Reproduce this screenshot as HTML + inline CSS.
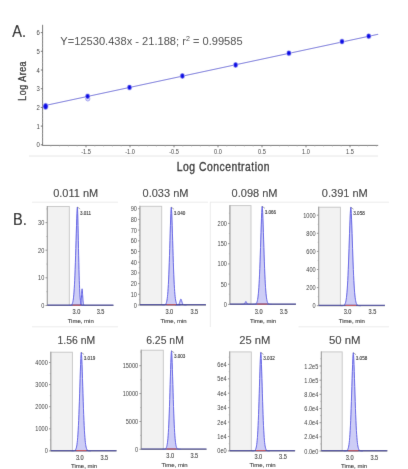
<!DOCTYPE html>
<html><head><meta charset="utf-8"><style>
html,body{margin:0;padding:0;background:#fff;width:408px;height:469px;overflow:hidden}
svg{display:block;font-family:"Liberation Sans", sans-serif}
</style></head><body>
<svg width="408" height="469" viewBox="0 0 408 469">
<defs><filter id="bl" x="0" y="0" width="100%" height="100%" filterUnits="userSpaceOnUse"><feConvolveMatrix order="3" kernelMatrix="0.00524 0.06192 0.00524 0.06192 0.73137 0.06192 0.00524 0.06192 0.00524" edgeMode="duplicate" preserveAlpha="true"/></filter></defs>
<rect width="408" height="469" fill="#fff"/>
<g filter="url(#bl)">
<rect width="408" height="469" fill="#fff"/>
<text transform="translate(12.30,36.80) scale(0.86,1)" font-size="17" text-anchor="start" fill="#111" font-weight="normal" stroke="#111" stroke-width="0.15">A.</text>
<line x1="42.6" y1="24.8" x2="42.6" y2="145.5" stroke="#6e6e6e" stroke-width="1"/>
<line x1="42.3" y1="145.4" x2="378.2" y2="145.4" stroke="#6e6e6e" stroke-width="1"/>
<line x1="40.8" y1="144.80" x2="42.9" y2="144.80" stroke="#6e6e6e" stroke-width="1"/>
<text transform="translate(39.80,147.30) scale(0.85,1)" font-size="7.0" text-anchor="end" fill="#333" font-weight="normal" >0</text>
<line x1="41.8" y1="141.06" x2="42.9" y2="141.06" stroke="#aaa" stroke-width="0.6"/>
<line x1="41.8" y1="137.32" x2="42.9" y2="137.32" stroke="#aaa" stroke-width="0.6"/>
<line x1="41.8" y1="133.58" x2="42.9" y2="133.58" stroke="#aaa" stroke-width="0.6"/>
<line x1="41.8" y1="129.84" x2="42.9" y2="129.84" stroke="#aaa" stroke-width="0.6"/>
<line x1="40.8" y1="126.10" x2="42.9" y2="126.10" stroke="#6e6e6e" stroke-width="1"/>
<text transform="translate(39.80,128.60) scale(0.85,1)" font-size="7.0" text-anchor="end" fill="#333" font-weight="normal" >1</text>
<line x1="41.8" y1="122.36" x2="42.9" y2="122.36" stroke="#aaa" stroke-width="0.6"/>
<line x1="41.8" y1="118.62" x2="42.9" y2="118.62" stroke="#aaa" stroke-width="0.6"/>
<line x1="41.8" y1="114.88" x2="42.9" y2="114.88" stroke="#aaa" stroke-width="0.6"/>
<line x1="41.8" y1="111.14" x2="42.9" y2="111.14" stroke="#aaa" stroke-width="0.6"/>
<line x1="40.8" y1="107.40" x2="42.9" y2="107.40" stroke="#6e6e6e" stroke-width="1"/>
<text transform="translate(39.80,109.90) scale(0.85,1)" font-size="7.0" text-anchor="end" fill="#333" font-weight="normal" >2</text>
<line x1="41.8" y1="103.66" x2="42.9" y2="103.66" stroke="#aaa" stroke-width="0.6"/>
<line x1="41.8" y1="99.92" x2="42.9" y2="99.92" stroke="#aaa" stroke-width="0.6"/>
<line x1="41.8" y1="96.18" x2="42.9" y2="96.18" stroke="#aaa" stroke-width="0.6"/>
<line x1="41.8" y1="92.44" x2="42.9" y2="92.44" stroke="#aaa" stroke-width="0.6"/>
<line x1="40.8" y1="88.70" x2="42.9" y2="88.70" stroke="#6e6e6e" stroke-width="1"/>
<text transform="translate(39.80,91.20) scale(0.85,1)" font-size="7.0" text-anchor="end" fill="#333" font-weight="normal" >3</text>
<line x1="41.8" y1="84.96" x2="42.9" y2="84.96" stroke="#aaa" stroke-width="0.6"/>
<line x1="41.8" y1="81.22" x2="42.9" y2="81.22" stroke="#aaa" stroke-width="0.6"/>
<line x1="41.8" y1="77.48" x2="42.9" y2="77.48" stroke="#aaa" stroke-width="0.6"/>
<line x1="41.8" y1="73.74" x2="42.9" y2="73.74" stroke="#aaa" stroke-width="0.6"/>
<line x1="40.8" y1="70.00" x2="42.9" y2="70.00" stroke="#6e6e6e" stroke-width="1"/>
<text transform="translate(39.80,72.50) scale(0.85,1)" font-size="7.0" text-anchor="end" fill="#333" font-weight="normal" >4</text>
<line x1="41.8" y1="66.26" x2="42.9" y2="66.26" stroke="#aaa" stroke-width="0.6"/>
<line x1="41.8" y1="62.52" x2="42.9" y2="62.52" stroke="#aaa" stroke-width="0.6"/>
<line x1="41.8" y1="58.78" x2="42.9" y2="58.78" stroke="#aaa" stroke-width="0.6"/>
<line x1="41.8" y1="55.04" x2="42.9" y2="55.04" stroke="#aaa" stroke-width="0.6"/>
<line x1="40.8" y1="51.30" x2="42.9" y2="51.30" stroke="#6e6e6e" stroke-width="1"/>
<text transform="translate(39.80,53.80) scale(0.85,1)" font-size="7.0" text-anchor="end" fill="#333" font-weight="normal" >5</text>
<line x1="41.8" y1="47.56" x2="42.9" y2="47.56" stroke="#aaa" stroke-width="0.6"/>
<line x1="41.8" y1="43.82" x2="42.9" y2="43.82" stroke="#aaa" stroke-width="0.6"/>
<line x1="41.8" y1="40.08" x2="42.9" y2="40.08" stroke="#aaa" stroke-width="0.6"/>
<line x1="41.8" y1="36.34" x2="42.9" y2="36.34" stroke="#aaa" stroke-width="0.6"/>
<line x1="40.8" y1="32.60" x2="42.9" y2="32.60" stroke="#6e6e6e" stroke-width="1"/>
<text transform="translate(39.80,35.10) scale(0.85,1)" font-size="7.0" text-anchor="end" fill="#333" font-weight="normal" >6</text>
<line x1="86.00" y1="145.2" x2="86.00" y2="147.3" stroke="#6e6e6e" stroke-width="0.9"/>
<text transform="translate(86.00,153.60) scale(0.85,1)" font-size="6.6" text-anchor="middle" fill="#333" font-weight="normal" >-1.5</text>
<line x1="130.00" y1="145.2" x2="130.00" y2="147.3" stroke="#6e6e6e" stroke-width="0.9"/>
<text transform="translate(130.00,153.60) scale(0.85,1)" font-size="6.6" text-anchor="middle" fill="#333" font-weight="normal" >-1.0</text>
<line x1="174.00" y1="145.2" x2="174.00" y2="147.3" stroke="#6e6e6e" stroke-width="0.9"/>
<text transform="translate(174.00,153.60) scale(0.85,1)" font-size="6.6" text-anchor="middle" fill="#333" font-weight="normal" >-0.5</text>
<line x1="218.00" y1="145.2" x2="218.00" y2="147.3" stroke="#6e6e6e" stroke-width="0.9"/>
<text transform="translate(218.00,153.60) scale(0.85,1)" font-size="6.6" text-anchor="middle" fill="#333" font-weight="normal" >0.0</text>
<line x1="262.00" y1="145.2" x2="262.00" y2="147.3" stroke="#6e6e6e" stroke-width="0.9"/>
<text transform="translate(262.00,153.60) scale(0.85,1)" font-size="6.6" text-anchor="middle" fill="#333" font-weight="normal" >0.5</text>
<line x1="306.00" y1="145.2" x2="306.00" y2="147.3" stroke="#6e6e6e" stroke-width="0.9"/>
<text transform="translate(306.00,153.60) scale(0.85,1)" font-size="6.6" text-anchor="middle" fill="#333" font-weight="normal" >1.0</text>
<line x1="350.00" y1="145.2" x2="350.00" y2="147.3" stroke="#6e6e6e" stroke-width="0.9"/>
<text transform="translate(350.00,153.60) scale(0.85,1)" font-size="6.6" text-anchor="middle" fill="#333" font-weight="normal" >1.5</text>
<line x1="50.80" y1="145.2" x2="50.80" y2="146.5" stroke="#999" stroke-width="0.6"/>
<line x1="59.60" y1="145.2" x2="59.60" y2="146.5" stroke="#999" stroke-width="0.6"/>
<line x1="68.40" y1="145.2" x2="68.40" y2="146.5" stroke="#999" stroke-width="0.6"/>
<line x1="77.20" y1="145.2" x2="77.20" y2="146.5" stroke="#999" stroke-width="0.6"/>
<line x1="94.80" y1="145.2" x2="94.80" y2="146.5" stroke="#999" stroke-width="0.6"/>
<line x1="103.60" y1="145.2" x2="103.60" y2="146.5" stroke="#999" stroke-width="0.6"/>
<line x1="112.40" y1="145.2" x2="112.40" y2="146.5" stroke="#999" stroke-width="0.6"/>
<line x1="121.20" y1="145.2" x2="121.20" y2="146.5" stroke="#999" stroke-width="0.6"/>
<line x1="138.80" y1="145.2" x2="138.80" y2="146.5" stroke="#999" stroke-width="0.6"/>
<line x1="147.60" y1="145.2" x2="147.60" y2="146.5" stroke="#999" stroke-width="0.6"/>
<line x1="156.40" y1="145.2" x2="156.40" y2="146.5" stroke="#999" stroke-width="0.6"/>
<line x1="165.20" y1="145.2" x2="165.20" y2="146.5" stroke="#999" stroke-width="0.6"/>
<line x1="182.80" y1="145.2" x2="182.80" y2="146.5" stroke="#999" stroke-width="0.6"/>
<line x1="191.60" y1="145.2" x2="191.60" y2="146.5" stroke="#999" stroke-width="0.6"/>
<line x1="200.40" y1="145.2" x2="200.40" y2="146.5" stroke="#999" stroke-width="0.6"/>
<line x1="209.20" y1="145.2" x2="209.20" y2="146.5" stroke="#999" stroke-width="0.6"/>
<line x1="226.80" y1="145.2" x2="226.80" y2="146.5" stroke="#999" stroke-width="0.6"/>
<line x1="235.60" y1="145.2" x2="235.60" y2="146.5" stroke="#999" stroke-width="0.6"/>
<line x1="244.40" y1="145.2" x2="244.40" y2="146.5" stroke="#999" stroke-width="0.6"/>
<line x1="253.20" y1="145.2" x2="253.20" y2="146.5" stroke="#999" stroke-width="0.6"/>
<line x1="270.80" y1="145.2" x2="270.80" y2="146.5" stroke="#999" stroke-width="0.6"/>
<line x1="279.60" y1="145.2" x2="279.60" y2="146.5" stroke="#999" stroke-width="0.6"/>
<line x1="288.40" y1="145.2" x2="288.40" y2="146.5" stroke="#999" stroke-width="0.6"/>
<line x1="297.20" y1="145.2" x2="297.20" y2="146.5" stroke="#999" stroke-width="0.6"/>
<line x1="314.80" y1="145.2" x2="314.80" y2="146.5" stroke="#999" stroke-width="0.6"/>
<line x1="323.60" y1="145.2" x2="323.60" y2="146.5" stroke="#999" stroke-width="0.6"/>
<line x1="332.40" y1="145.2" x2="332.40" y2="146.5" stroke="#999" stroke-width="0.6"/>
<line x1="341.20" y1="145.2" x2="341.20" y2="146.5" stroke="#999" stroke-width="0.6"/>
<line x1="358.80" y1="145.2" x2="358.80" y2="146.5" stroke="#999" stroke-width="0.6"/>
<line x1="367.60" y1="145.2" x2="367.60" y2="146.5" stroke="#999" stroke-width="0.6"/>
<line x1="376.40" y1="145.2" x2="376.40" y2="146.5" stroke="#999" stroke-width="0.6"/>
<line x1="29" y1="156" x2="378" y2="156" stroke="#e6e6e6" stroke-width="1"/>
<text transform="translate(176.70,171.00) scale(0.85,1)" font-size="12.2" text-anchor="start" fill="#1e1e1e" font-weight="normal" stroke="#1e1e1e" stroke-width="0.3" letter-spacing="0.6">Log Concentration</text>
<text transform="translate(26.4,100.7) rotate(-90) scale(0.88,1)" font-size="10.1" letter-spacing="0.6" fill="#222" stroke="#222" stroke-width="0.3">Log Area</text>
<text transform="translate(60.30,44.70) scale(1.01,1)" font-size="11" text-anchor="start" fill="#3a3a3a" font-weight="normal" >Y=12530.438x - 21.188; r<tspan font-size="7" dy="-4">2</tspan><tspan dy="4"> = 0.99585</tspan></text>
<line x1="44" y1="105.8" x2="378.2" y2="34.2" stroke="#7c7cdc" stroke-width="1.05"/>
<ellipse cx="45.6" cy="106.3" rx="2.9" ry="3.6" fill="#b4b4f4"/>
<ellipse cx="45.6" cy="106.3" rx="2.1" ry="2.9" fill="#0c0ce6"/>
<circle cx="87.8" cy="98.9" r="2.1" fill="#dcdcfa" stroke="#9a9aee" stroke-width="0.9"/>
<ellipse cx="87.6" cy="96.3" rx="2.7" ry="3.0" fill="#c0c0f6"/>
<ellipse cx="87.6" cy="96.3" rx="2.0" ry="2.4" fill="#0c0ce6"/>
<ellipse cx="129.5" cy="87.4" rx="2.7" ry="3.0" fill="#c0c0f6"/>
<ellipse cx="129.5" cy="87.4" rx="2.0" ry="2.4" fill="#0c0ce6"/>
<ellipse cx="182.4" cy="76.0" rx="2.7" ry="3.0" fill="#c0c0f6"/>
<ellipse cx="182.4" cy="76.0" rx="2.0" ry="2.4" fill="#0c0ce6"/>
<ellipse cx="235.6" cy="65.0" rx="2.7" ry="3.0" fill="#c0c0f6"/>
<ellipse cx="235.6" cy="65.0" rx="2.0" ry="2.4" fill="#0c0ce6"/>
<ellipse cx="288.9" cy="53.2" rx="2.7" ry="3.0" fill="#c0c0f6"/>
<ellipse cx="288.9" cy="53.2" rx="2.0" ry="2.4" fill="#0c0ce6"/>
<ellipse cx="342" cy="41.6" rx="2.7" ry="3.0" fill="#c0c0f6"/>
<ellipse cx="342" cy="41.6" rx="2.0" ry="2.4" fill="#0c0ce6"/>
<ellipse cx="368.7" cy="36.2" rx="2.7" ry="3.0" fill="#c0c0f6"/>
<ellipse cx="368.7" cy="36.2" rx="2.0" ry="2.4" fill="#0c0ce6"/>
<text transform="translate(13.00,225.00) scale(0.86,1)" font-size="17" text-anchor="start" fill="#111" font-weight="normal" stroke="#111" stroke-width="0.15">B.</text>
<text transform="translate(75.70,196.70) scale(1.0,1)" font-size="11" text-anchor="middle" fill="#242424" font-weight="normal" stroke="#242424" stroke-width="0.06">0.011 nM</text>
<rect x="47.3" y="206.5" width="22.0" height="99.0" fill="#f2f2f2" stroke="#c4c4c4" stroke-width="0.9"/>
<line x1="45.5" y1="222.60" x2="47.3" y2="222.60" stroke="#777" stroke-width="0.8"/>
<text transform="translate(44.30,225.10) scale(0.8,1)" font-size="7.0" text-anchor="end" fill="#333" font-weight="normal" >30</text>
<line x1="45.5" y1="250.20" x2="47.3" y2="250.20" stroke="#777" stroke-width="0.8"/>
<text transform="translate(44.30,252.70) scale(0.8,1)" font-size="7.0" text-anchor="end" fill="#333" font-weight="normal" >20</text>
<line x1="45.5" y1="277.80" x2="47.3" y2="277.80" stroke="#777" stroke-width="0.8"/>
<text transform="translate(44.30,280.30) scale(0.8,1)" font-size="7.0" text-anchor="end" fill="#333" font-weight="normal" >10</text>
<line x1="45.5" y1="305.50" x2="47.3" y2="305.50" stroke="#777" stroke-width="0.8"/>
<text transform="translate(44.30,308.00) scale(0.8,1)" font-size="7.0" text-anchor="end" fill="#333" font-weight="normal" >0</text>
<line x1="47.3" y1="305.5" x2="113.4" y2="305.5" stroke="#777" stroke-width="1"/>
<line x1="47.3" y1="206.0" x2="47.3" y2="305.5" stroke="#9a9a9a" stroke-width="1"/>
<line x1="46.3" y1="291.70" x2="47.3" y2="291.70" stroke="#999" stroke-width="0.6"/>
<line x1="46.3" y1="264.10" x2="47.3" y2="264.10" stroke="#999" stroke-width="0.6"/>
<line x1="46.3" y1="236.50" x2="47.3" y2="236.50" stroke="#999" stroke-width="0.6"/>
<line x1="46.3" y1="208.90" x2="47.3" y2="208.90" stroke="#999" stroke-width="0.6"/>
<text transform="translate(76.40,314.20) scale(0.88,1)" font-size="6.4" text-anchor="middle" fill="#2a2a2a" font-weight="normal" stroke="#2a2a2a" stroke-width="0.1">3.0</text>
<text transform="translate(100.60,314.20) scale(0.88,1)" font-size="6.4" text-anchor="middle" fill="#2a2a2a" font-weight="normal" stroke="#2a2a2a" stroke-width="0.1">3.5</text>
<text transform="translate(80.70,322.80) scale(1.0,1)" font-size="6.0" text-anchor="middle" fill="#2a2a2a" font-weight="normal" stroke="#2a2a2a" stroke-width="0.1">Time, min</text>
<path d="M68.35,305.50 L68.58,305.50 L68.80,305.49 L69.03,305.49 L69.26,305.49 L69.48,305.48 L69.71,305.47 L69.93,305.45 L70.16,305.43 L70.39,305.40 L70.61,305.35 L70.84,305.28 L71.07,305.19 L71.29,305.06 L71.52,304.88 L71.74,304.65 L71.97,304.33 L72.20,303.90 L72.42,303.34 L72.65,302.61 L72.88,301.68 L73.10,300.49 L73.33,298.99 L73.55,297.12 L73.78,294.84 L74.01,292.07 L74.23,288.75 L74.46,284.84 L74.69,280.30 L74.91,275.11 L75.14,269.26 L75.36,262.81 L75.59,255.81 L75.82,248.40 L76.04,240.76 L76.27,233.10 L76.50,225.71 L76.72,218.93 L76.95,213.18 L77.17,208.95 L77.40,207.00 L77.56,208.95 L77.72,213.18 L77.88,218.93 L78.03,225.71 L78.19,233.10 L78.35,240.76 L78.51,248.40 L78.67,255.81 L78.83,262.81 L78.98,269.26 L79.14,275.11 L79.30,280.30 L79.46,284.84 L79.62,288.75 L79.78,292.07 L79.93,294.84 L80.09,297.12 L80.25,298.99 L80.41,300.49 L80.57,301.68 L80.73,302.61 L80.88,303.34 L81.04,303.90 L81.20,304.33 L81.36,304.65 L81.52,304.88 L81.68,305.06 L81.83,305.19 L81.99,305.28 L82.15,305.35 L82.31,305.40 L82.47,305.43 L82.63,305.45 L82.78,305.47 L82.94,305.48 L83.10,305.49 L83.26,305.49 L83.42,305.49 L83.58,305.50 L83.73,305.50 Z" fill="#cdcdf6" stroke="none"/>
<path d="M78.71,305.50 L78.79,305.50 L78.88,305.50 L78.96,305.50 L79.05,305.50 L79.13,305.50 L79.22,305.49 L79.30,305.49 L79.39,305.49 L79.47,305.48 L79.55,305.47 L79.64,305.46 L79.72,305.45 L79.81,305.43 L79.89,305.40 L79.98,305.36 L80.06,305.30 L80.15,305.23 L80.23,305.13 L80.32,305.01 L80.40,304.85 L80.49,304.65 L80.57,304.40 L80.66,304.08 L80.74,303.69 L80.83,303.22 L80.91,302.66 L81.00,302.00 L81.08,301.23 L81.17,300.35 L81.25,299.36 L81.34,298.26 L81.42,297.08 L81.51,295.82 L81.59,294.52 L81.68,293.22 L81.76,291.97 L81.85,290.82 L81.93,289.85 L82.02,289.13 L82.10,288.80 L82.18,289.13 L82.27,289.85 L82.35,290.82 L82.44,291.97 L82.52,293.22 L82.61,294.52 L82.69,295.82 L82.78,297.08 L82.86,298.26 L82.95,299.36 L83.03,300.35 L83.12,301.23 L83.20,302.00 L83.29,302.66 L83.37,303.22 L83.46,303.69 L83.54,304.08 L83.63,304.40 L83.71,304.65 L83.80,304.85 L83.88,305.01 L83.97,305.13 L84.05,305.23 L84.14,305.30 L84.22,305.36 L84.31,305.40 L84.39,305.43 L84.48,305.45 L84.56,305.46 L84.65,305.47 L84.73,305.48 L84.81,305.49 L84.90,305.49 L84.98,305.49 L85.07,305.50 L85.15,305.50 L85.24,305.50 L85.32,305.50 L85.41,305.50 L85.49,305.50 Z" fill="#cdcdf6" stroke="none"/>
<path d="M78.71,305.50 L78.79,305.50 L78.88,305.50 L78.96,305.50 L79.05,305.50 L79.13,305.50 L79.22,305.49 L79.30,305.49 L79.39,305.49 L79.47,305.48 L79.55,305.47 L79.64,305.46 L79.72,305.45 L79.81,305.43 L79.89,305.40 L79.98,305.36 L80.06,305.30 L80.15,305.23 L80.23,305.13 L80.32,305.01 L80.40,304.85 L80.49,304.65 L80.57,304.40 L80.66,304.08 L80.74,303.69 L80.83,303.22 L80.91,302.66 L81.00,302.00 L81.08,301.23 L81.17,300.35 L81.25,299.36 L81.34,298.26 L81.42,297.08 L81.51,295.82 L81.59,294.52 L81.68,293.22 L81.76,291.97 L81.85,290.82 L81.93,289.85 L82.02,289.13 L82.10,288.80 L82.18,289.13 L82.27,289.85 L82.35,290.82 L82.44,291.97 L82.52,293.22 L82.61,294.52 L82.69,295.82 L82.78,297.08 L82.86,298.26 L82.95,299.36 L83.03,300.35 L83.12,301.23 L83.20,302.00 L83.29,302.66 L83.37,303.22 L83.46,303.69 L83.54,304.08 L83.63,304.40 L83.71,304.65 L83.80,304.85 L83.88,305.01 L83.97,305.13 L84.05,305.23 L84.14,305.30 L84.22,305.36 L84.31,305.40 L84.39,305.43 L84.48,305.45 L84.56,305.46 L84.65,305.47 L84.73,305.48 L84.81,305.49 L84.90,305.49 L84.98,305.49 L85.07,305.50 L85.15,305.50 L85.24,305.50 L85.32,305.50 L85.41,305.50 L85.49,305.50" fill="none" stroke="#5a5ae4" stroke-width="1"/>
<path d="M68.35,305.50 L68.58,305.50 L68.80,305.49 L69.03,305.49 L69.26,305.49 L69.48,305.48 L69.71,305.47 L69.93,305.45 L70.16,305.43 L70.39,305.40 L70.61,305.35 L70.84,305.28 L71.07,305.19 L71.29,305.06 L71.52,304.88 L71.74,304.65 L71.97,304.33 L72.20,303.90 L72.42,303.34 L72.65,302.61 L72.88,301.68 L73.10,300.49 L73.33,298.99 L73.55,297.12 L73.78,294.84 L74.01,292.07 L74.23,288.75 L74.46,284.84 L74.69,280.30 L74.91,275.11 L75.14,269.26 L75.36,262.81 L75.59,255.81 L75.82,248.40 L76.04,240.76 L76.27,233.10 L76.50,225.71 L76.72,218.93 L76.95,213.18 L77.17,208.95 L77.40,207.00 L77.56,208.95 L77.72,213.18 L77.88,218.93 L78.03,225.71 L78.19,233.10 L78.35,240.76 L78.51,248.40 L78.67,255.81 L78.83,262.81 L78.98,269.26 L79.14,275.11 L79.30,280.30 L79.46,284.84 L79.62,288.75 L79.78,292.07 L79.93,294.84 L80.09,297.12 L80.25,298.99 L80.41,300.49 L80.57,301.68 L80.73,302.61 L80.88,303.34 L81.04,303.90 L81.20,304.33 L81.36,304.65 L81.52,304.88 L81.68,305.06 L81.83,305.19 L81.99,305.28 L82.15,305.35 L82.31,305.40 L82.47,305.43 L82.63,305.45 L82.78,305.47 L82.94,305.48 L83.10,305.49 L83.26,305.49 L83.42,305.49 L83.58,305.50 L83.73,305.50" fill="none" stroke="#5a5ae4" stroke-width="1"/>
<line x1="47.3" y1="305.2" x2="113.4" y2="305.2" stroke="#42429c" stroke-width="1.2"/>
<line x1="72.60" y1="305.2" x2="80.76" y2="305.2" stroke="#d04848" stroke-width="1"/>
<line x1="77.40" y1="207" x2="80.20" y2="209.1" stroke="#555" stroke-width="0.5"/>
<text transform="translate(79.90,214.60) scale(0.95,1)" font-size="4.8" text-anchor="start" fill="#222" font-weight="normal" stroke="#222" stroke-width="0.1">3.011</text>
<line x1="32" y1="202.2" x2="118" y2="202.2" stroke="#ebebeb" stroke-width="1"/>
<line x1="32" y1="326.8" x2="118" y2="326.8" stroke="#ebebeb" stroke-width="1"/>
<text transform="translate(165.50,196.70) scale(1.0,1)" font-size="11" text-anchor="middle" fill="#242424" font-weight="normal" stroke="#242424" stroke-width="0.06">0.033 nM</text>
<rect x="139.9" y="206.3" width="21.799999999999983" height="98.69999999999999" fill="#f2f2f2" stroke="#c4c4c4" stroke-width="0.9"/>
<line x1="138.1" y1="305.00" x2="139.9" y2="305.00" stroke="#777" stroke-width="0.8"/>
<text transform="translate(136.90,307.50) scale(0.8,1)" font-size="7.0" text-anchor="end" fill="#333" font-weight="normal" >0</text>
<line x1="138.1" y1="294.30" x2="139.9" y2="294.30" stroke="#777" stroke-width="0.8"/>
<text transform="translate(136.90,296.80) scale(0.8,1)" font-size="7.0" text-anchor="end" fill="#333" font-weight="normal" >10</text>
<line x1="138.1" y1="283.60" x2="139.9" y2="283.60" stroke="#777" stroke-width="0.8"/>
<text transform="translate(136.90,286.10) scale(0.8,1)" font-size="7.0" text-anchor="end" fill="#333" font-weight="normal" >20</text>
<line x1="138.1" y1="272.90" x2="139.9" y2="272.90" stroke="#777" stroke-width="0.8"/>
<text transform="translate(136.90,275.40) scale(0.8,1)" font-size="7.0" text-anchor="end" fill="#333" font-weight="normal" >30</text>
<line x1="138.1" y1="262.20" x2="139.9" y2="262.20" stroke="#777" stroke-width="0.8"/>
<text transform="translate(136.90,264.70) scale(0.8,1)" font-size="7.0" text-anchor="end" fill="#333" font-weight="normal" >40</text>
<line x1="138.1" y1="251.50" x2="139.9" y2="251.50" stroke="#777" stroke-width="0.8"/>
<text transform="translate(136.90,254.00) scale(0.8,1)" font-size="7.0" text-anchor="end" fill="#333" font-weight="normal" >50</text>
<line x1="138.1" y1="240.80" x2="139.9" y2="240.80" stroke="#777" stroke-width="0.8"/>
<text transform="translate(136.90,243.30) scale(0.8,1)" font-size="7.0" text-anchor="end" fill="#333" font-weight="normal" >60</text>
<line x1="138.1" y1="230.10" x2="139.9" y2="230.10" stroke="#777" stroke-width="0.8"/>
<text transform="translate(136.90,232.60) scale(0.8,1)" font-size="7.0" text-anchor="end" fill="#333" font-weight="normal" >70</text>
<line x1="138.1" y1="219.40" x2="139.9" y2="219.40" stroke="#777" stroke-width="0.8"/>
<text transform="translate(136.90,221.90) scale(0.8,1)" font-size="7.0" text-anchor="end" fill="#333" font-weight="normal" >80</text>
<line x1="138.1" y1="208.70" x2="139.9" y2="208.70" stroke="#777" stroke-width="0.8"/>
<text transform="translate(136.90,211.20) scale(0.8,1)" font-size="7.0" text-anchor="end" fill="#333" font-weight="normal" >90</text>
<line x1="139.9" y1="305" x2="206" y2="305" stroke="#777" stroke-width="1"/>
<line x1="139.9" y1="205.8" x2="139.9" y2="305" stroke="#9a9a9a" stroke-width="1"/>
<line x1="138.9" y1="299.65" x2="139.9" y2="299.65" stroke="#999" stroke-width="0.6"/>
<line x1="138.9" y1="288.95" x2="139.9" y2="288.95" stroke="#999" stroke-width="0.6"/>
<line x1="138.9" y1="278.25" x2="139.9" y2="278.25" stroke="#999" stroke-width="0.6"/>
<line x1="138.9" y1="267.55" x2="139.9" y2="267.55" stroke="#999" stroke-width="0.6"/>
<line x1="138.9" y1="256.85" x2="139.9" y2="256.85" stroke="#999" stroke-width="0.6"/>
<line x1="138.9" y1="246.15" x2="139.9" y2="246.15" stroke="#999" stroke-width="0.6"/>
<line x1="138.9" y1="235.45" x2="139.9" y2="235.45" stroke="#999" stroke-width="0.6"/>
<line x1="138.9" y1="224.75" x2="139.9" y2="224.75" stroke="#999" stroke-width="0.6"/>
<line x1="138.9" y1="214.05" x2="139.9" y2="214.05" stroke="#999" stroke-width="0.6"/>
<text transform="translate(169.30,314.00) scale(0.88,1)" font-size="6.4" text-anchor="middle" fill="#2a2a2a" font-weight="normal" stroke="#2a2a2a" stroke-width="0.1">3.0</text>
<text transform="translate(194.30,314.00) scale(0.88,1)" font-size="6.4" text-anchor="middle" fill="#2a2a2a" font-weight="normal" stroke="#2a2a2a" stroke-width="0.1">3.5</text>
<text transform="translate(173.60,322.80) scale(1.0,1)" font-size="6.0" text-anchor="middle" fill="#2a2a2a" font-weight="normal" stroke="#2a2a2a" stroke-width="0.1">Time, min</text>
<path d="M162.25,305.00 L162.48,305.00 L162.70,304.99 L162.93,304.99 L163.16,304.99 L163.38,304.98 L163.61,304.97 L163.83,304.95 L164.06,304.93 L164.29,304.90 L164.51,304.85 L164.74,304.78 L164.97,304.69 L165.19,304.56 L165.42,304.39 L165.64,304.15 L165.87,303.83 L166.10,303.41 L166.32,302.86 L166.55,302.13 L166.78,301.20 L167.00,300.02 L167.23,298.53 L167.45,296.68 L167.68,294.41 L167.91,291.66 L168.13,288.37 L168.36,284.49 L168.59,279.98 L168.81,274.82 L169.04,269.02 L169.26,262.61 L169.49,255.67 L169.72,248.31 L169.94,240.72 L170.17,233.11 L170.40,225.77 L170.62,219.05 L170.85,213.34 L171.07,209.13 L171.30,207.20 L171.53,209.13 L171.75,213.34 L171.98,219.05 L172.20,225.77 L172.43,233.11 L172.66,240.72 L172.88,248.31 L173.11,255.67 L173.34,262.61 L173.56,269.02 L173.79,274.82 L174.01,279.98 L174.24,284.49 L174.47,288.37 L174.69,291.66 L174.92,294.41 L175.15,296.68 L175.37,298.53 L175.60,300.02 L175.82,301.20 L176.05,302.13 L176.28,302.86 L176.50,303.41 L176.73,303.83 L176.96,304.15 L177.18,304.39 L177.41,304.56 L177.63,304.69 L177.86,304.78 L178.09,304.85 L178.31,304.90 L178.54,304.93 L178.77,304.95 L178.99,304.97 L179.22,304.98 L179.44,304.99 L179.67,304.99 L179.90,304.99 L180.12,305.00 L180.35,305.00 Z" fill="#cdcdf6" stroke="none"/>
<path d="M175.24,305.00 L175.39,305.00 L175.53,305.00 L175.67,305.00 L175.81,305.00 L175.95,305.00 L176.09,305.00 L176.23,305.00 L176.38,305.00 L176.52,304.99 L176.66,304.99 L176.80,304.99 L176.94,304.98 L177.08,304.97 L177.22,304.96 L177.37,304.95 L177.51,304.93 L177.65,304.90 L177.79,304.87 L177.93,304.82 L178.07,304.77 L178.21,304.69 L178.35,304.60 L178.50,304.49 L178.64,304.35 L178.78,304.18 L178.92,303.98 L179.06,303.74 L179.20,303.47 L179.34,303.15 L179.49,302.79 L179.63,302.40 L179.77,301.97 L179.91,301.52 L180.05,301.06 L180.19,300.59 L180.33,300.14 L180.48,299.73 L180.62,299.38 L180.76,299.12 L180.90,299.00 L181.04,299.12 L181.18,299.38 L181.32,299.73 L181.47,300.14 L181.61,300.59 L181.75,301.06 L181.89,301.52 L182.03,301.97 L182.17,302.40 L182.31,302.79 L182.46,303.15 L182.60,303.47 L182.74,303.74 L182.88,303.98 L183.02,304.18 L183.16,304.35 L183.30,304.49 L183.45,304.60 L183.59,304.69 L183.73,304.77 L183.87,304.82 L184.01,304.87 L184.15,304.90 L184.29,304.93 L184.44,304.95 L184.58,304.96 L184.72,304.97 L184.86,304.98 L185.00,304.99 L185.14,304.99 L185.28,304.99 L185.42,305.00 L185.57,305.00 L185.71,305.00 L185.85,305.00 L185.99,305.00 L186.13,305.00 L186.27,305.00 L186.41,305.00 L186.56,305.00 Z" fill="#cdcdf6" stroke="none"/>
<path d="M175.24,305.00 L175.39,305.00 L175.53,305.00 L175.67,305.00 L175.81,305.00 L175.95,305.00 L176.09,305.00 L176.23,305.00 L176.38,305.00 L176.52,304.99 L176.66,304.99 L176.80,304.99 L176.94,304.98 L177.08,304.97 L177.22,304.96 L177.37,304.95 L177.51,304.93 L177.65,304.90 L177.79,304.87 L177.93,304.82 L178.07,304.77 L178.21,304.69 L178.35,304.60 L178.50,304.49 L178.64,304.35 L178.78,304.18 L178.92,303.98 L179.06,303.74 L179.20,303.47 L179.34,303.15 L179.49,302.79 L179.63,302.40 L179.77,301.97 L179.91,301.52 L180.05,301.06 L180.19,300.59 L180.33,300.14 L180.48,299.73 L180.62,299.38 L180.76,299.12 L180.90,299.00 L181.04,299.12 L181.18,299.38 L181.32,299.73 L181.47,300.14 L181.61,300.59 L181.75,301.06 L181.89,301.52 L182.03,301.97 L182.17,302.40 L182.31,302.79 L182.46,303.15 L182.60,303.47 L182.74,303.74 L182.88,303.98 L183.02,304.18 L183.16,304.35 L183.30,304.49 L183.45,304.60 L183.59,304.69 L183.73,304.77 L183.87,304.82 L184.01,304.87 L184.15,304.90 L184.29,304.93 L184.44,304.95 L184.58,304.96 L184.72,304.97 L184.86,304.98 L185.00,304.99 L185.14,304.99 L185.28,304.99 L185.42,305.00 L185.57,305.00 L185.71,305.00 L185.85,305.00 L185.99,305.00 L186.13,305.00 L186.27,305.00 L186.41,305.00 L186.56,305.00" fill="none" stroke="#5a5ae4" stroke-width="1"/>
<path d="M162.25,305.00 L162.48,305.00 L162.70,304.99 L162.93,304.99 L163.16,304.99 L163.38,304.98 L163.61,304.97 L163.83,304.95 L164.06,304.93 L164.29,304.90 L164.51,304.85 L164.74,304.78 L164.97,304.69 L165.19,304.56 L165.42,304.39 L165.64,304.15 L165.87,303.83 L166.10,303.41 L166.32,302.86 L166.55,302.13 L166.78,301.20 L167.00,300.02 L167.23,298.53 L167.45,296.68 L167.68,294.41 L167.91,291.66 L168.13,288.37 L168.36,284.49 L168.59,279.98 L168.81,274.82 L169.04,269.02 L169.26,262.61 L169.49,255.67 L169.72,248.31 L169.94,240.72 L170.17,233.11 L170.40,225.77 L170.62,219.05 L170.85,213.34 L171.07,209.13 L171.30,207.20 L171.53,209.13 L171.75,213.34 L171.98,219.05 L172.20,225.77 L172.43,233.11 L172.66,240.72 L172.88,248.31 L173.11,255.67 L173.34,262.61 L173.56,269.02 L173.79,274.82 L174.01,279.98 L174.24,284.49 L174.47,288.37 L174.69,291.66 L174.92,294.41 L175.15,296.68 L175.37,298.53 L175.60,300.02 L175.82,301.20 L176.05,302.13 L176.28,302.86 L176.50,303.41 L176.73,303.83 L176.96,304.15 L177.18,304.39 L177.41,304.56 L177.63,304.69 L177.86,304.78 L178.09,304.85 L178.31,304.90 L178.54,304.93 L178.77,304.95 L178.99,304.97 L179.22,304.98 L179.44,304.99 L179.67,304.99 L179.90,304.99 L180.12,305.00 L180.35,305.00" fill="none" stroke="#5a5ae4" stroke-width="1"/>
<line x1="139.9" y1="304.7" x2="206" y2="304.7" stroke="#42429c" stroke-width="1.2"/>
<line x1="166.50" y1="304.7" x2="176.10" y2="304.7" stroke="#d04848" stroke-width="1"/>
<line x1="171.30" y1="207.2" x2="174.10" y2="209.29999999999998" stroke="#555" stroke-width="0.5"/>
<text transform="translate(173.80,214.80) scale(0.95,1)" font-size="4.8" text-anchor="start" fill="#222" font-weight="normal" stroke="#222" stroke-width="0.1">3.040</text>
<line x1="139" y1="202.2" x2="208" y2="202.2" stroke="#ebebeb" stroke-width="1"/>
<text transform="translate(254.55,196.70) scale(1.0,1)" font-size="11" text-anchor="middle" fill="#242424" font-weight="normal" stroke="#242424" stroke-width="0.06">0.098 nM</text>
<rect x="229.9" y="205.6" width="21.099999999999994" height="98.79999999999998" fill="#f2f2f2" stroke="#c4c4c4" stroke-width="0.9"/>
<line x1="228.1" y1="304.40" x2="229.9" y2="304.40" stroke="#777" stroke-width="0.8"/>
<text transform="translate(226.90,306.90) scale(0.8,1)" font-size="7.0" text-anchor="end" fill="#333" font-weight="normal" >0</text>
<line x1="228.1" y1="284.15" x2="229.9" y2="284.15" stroke="#777" stroke-width="0.8"/>
<text transform="translate(226.90,286.65) scale(0.8,1)" font-size="7.0" text-anchor="end" fill="#333" font-weight="normal" >50</text>
<line x1="228.1" y1="263.90" x2="229.9" y2="263.90" stroke="#777" stroke-width="0.8"/>
<text transform="translate(226.90,266.40) scale(0.8,1)" font-size="7.0" text-anchor="end" fill="#333" font-weight="normal" >100</text>
<line x1="228.1" y1="243.65" x2="229.9" y2="243.65" stroke="#777" stroke-width="0.8"/>
<text transform="translate(226.90,246.15) scale(0.8,1)" font-size="7.0" text-anchor="end" fill="#333" font-weight="normal" >150</text>
<line x1="228.1" y1="223.40" x2="229.9" y2="223.40" stroke="#777" stroke-width="0.8"/>
<text transform="translate(226.90,225.90) scale(0.8,1)" font-size="7.0" text-anchor="end" fill="#333" font-weight="normal" >200</text>
<line x1="229.9" y1="304.4" x2="296" y2="304.4" stroke="#777" stroke-width="1"/>
<line x1="229.9" y1="205.1" x2="229.9" y2="304.4" stroke="#9a9a9a" stroke-width="1"/>
<line x1="228.9" y1="294.27" x2="229.9" y2="294.27" stroke="#999" stroke-width="0.6"/>
<line x1="228.9" y1="274.02" x2="229.9" y2="274.02" stroke="#999" stroke-width="0.6"/>
<line x1="228.9" y1="253.77" x2="229.9" y2="253.77" stroke="#999" stroke-width="0.6"/>
<line x1="228.9" y1="233.52" x2="229.9" y2="233.52" stroke="#999" stroke-width="0.6"/>
<line x1="228.9" y1="213.27" x2="229.9" y2="213.27" stroke="#999" stroke-width="0.6"/>
<text transform="translate(258.70,313.50) scale(0.88,1)" font-size="6.4" text-anchor="middle" fill="#2a2a2a" font-weight="normal" stroke="#2a2a2a" stroke-width="0.1">3.0</text>
<text transform="translate(283.70,313.50) scale(0.88,1)" font-size="6.4" text-anchor="middle" fill="#2a2a2a" font-weight="normal" stroke="#2a2a2a" stroke-width="0.1">3.5</text>
<text transform="translate(263.00,322.80) scale(1.0,1)" font-size="6.0" text-anchor="middle" fill="#2a2a2a" font-weight="normal" stroke="#2a2a2a" stroke-width="0.1">Time, min</text>
<path d="M252.58,304.40 L252.83,304.40 L253.07,304.39 L253.31,304.39 L253.55,304.39 L253.79,304.38 L254.03,304.37 L254.27,304.35 L254.51,304.33 L254.75,304.30 L254.99,304.25 L255.23,304.18 L255.47,304.09 L255.71,303.96 L255.95,303.79 L256.19,303.55 L256.43,303.23 L256.67,302.81 L256.91,302.25 L257.15,301.53 L257.39,300.59 L257.63,299.41 L257.87,297.91 L258.11,296.06 L258.35,293.78 L258.59,291.02 L258.83,287.72 L259.08,283.83 L259.32,279.31 L259.56,274.13 L259.80,268.31 L260.04,261.88 L260.28,254.91 L260.52,247.54 L260.76,239.92 L261.00,232.29 L261.24,224.93 L261.48,218.19 L261.72,212.46 L261.96,208.24 L262.20,206.30 L262.44,208.24 L262.68,212.46 L262.92,218.19 L263.16,224.93 L263.40,232.29 L263.64,239.92 L263.88,247.54 L264.12,254.91 L264.36,261.88 L264.60,268.31 L264.84,274.13 L265.08,279.31 L265.32,283.83 L265.57,287.72 L265.81,291.02 L266.05,293.78 L266.29,296.06 L266.53,297.91 L266.77,299.41 L267.01,300.59 L267.25,301.53 L267.49,302.25 L267.73,302.81 L267.97,303.23 L268.21,303.55 L268.45,303.79 L268.69,303.96 L268.93,304.09 L269.17,304.18 L269.41,304.25 L269.65,304.30 L269.89,304.33 L270.13,304.35 L270.37,304.37 L270.61,304.38 L270.85,304.39 L271.09,304.39 L271.33,304.39 L271.57,304.40 L271.82,304.40 Z" fill="#cdcdf6" stroke="none"/>
<path d="M241.38,304.40 L241.49,304.40 L241.60,304.40 L241.71,304.40 L241.83,304.40 L241.94,304.40 L242.05,304.40 L242.17,304.40 L242.28,304.40 L242.39,304.40 L242.51,304.40 L242.62,304.39 L242.73,304.39 L242.85,304.39 L242.96,304.38 L243.07,304.37 L243.19,304.37 L243.30,304.35 L243.41,304.34 L243.52,304.32 L243.64,304.29 L243.75,304.25 L243.86,304.21 L243.98,304.15 L244.09,304.09 L244.20,304.00 L244.32,303.91 L244.43,303.79 L244.54,303.66 L244.66,303.51 L244.77,303.33 L244.88,303.14 L245.00,302.94 L245.11,302.72 L245.22,302.49 L245.33,302.27 L245.45,302.05 L245.56,301.85 L245.67,301.68 L245.79,301.56 L245.90,301.50 L246.01,301.56 L246.13,301.68 L246.24,301.85 L246.35,302.05 L246.47,302.27 L246.58,302.49 L246.69,302.72 L246.80,302.94 L246.92,303.14 L247.03,303.33 L247.14,303.51 L247.26,303.66 L247.37,303.79 L247.48,303.91 L247.60,304.00 L247.71,304.09 L247.82,304.15 L247.94,304.21 L248.05,304.25 L248.16,304.29 L248.28,304.32 L248.39,304.34 L248.50,304.35 L248.61,304.37 L248.73,304.37 L248.84,304.38 L248.95,304.39 L249.07,304.39 L249.18,304.39 L249.29,304.40 L249.41,304.40 L249.52,304.40 L249.63,304.40 L249.75,304.40 L249.86,304.40 L249.97,304.40 L250.09,304.40 L250.20,304.40 L250.31,304.40 L250.42,304.40 Z" fill="#cdcdf6" stroke="none"/>
<path d="M241.38,304.40 L241.49,304.40 L241.60,304.40 L241.71,304.40 L241.83,304.40 L241.94,304.40 L242.05,304.40 L242.17,304.40 L242.28,304.40 L242.39,304.40 L242.51,304.40 L242.62,304.39 L242.73,304.39 L242.85,304.39 L242.96,304.38 L243.07,304.37 L243.19,304.37 L243.30,304.35 L243.41,304.34 L243.52,304.32 L243.64,304.29 L243.75,304.25 L243.86,304.21 L243.98,304.15 L244.09,304.09 L244.20,304.00 L244.32,303.91 L244.43,303.79 L244.54,303.66 L244.66,303.51 L244.77,303.33 L244.88,303.14 L245.00,302.94 L245.11,302.72 L245.22,302.49 L245.33,302.27 L245.45,302.05 L245.56,301.85 L245.67,301.68 L245.79,301.56 L245.90,301.50 L246.01,301.56 L246.13,301.68 L246.24,301.85 L246.35,302.05 L246.47,302.27 L246.58,302.49 L246.69,302.72 L246.80,302.94 L246.92,303.14 L247.03,303.33 L247.14,303.51 L247.26,303.66 L247.37,303.79 L247.48,303.91 L247.60,304.00 L247.71,304.09 L247.82,304.15 L247.94,304.21 L248.05,304.25 L248.16,304.29 L248.28,304.32 L248.39,304.34 L248.50,304.35 L248.61,304.37 L248.73,304.37 L248.84,304.38 L248.95,304.39 L249.07,304.39 L249.18,304.39 L249.29,304.40 L249.41,304.40 L249.52,304.40 L249.63,304.40 L249.75,304.40 L249.86,304.40 L249.97,304.40 L250.09,304.40 L250.20,304.40 L250.31,304.40 L250.42,304.40" fill="none" stroke="#5a5ae4" stroke-width="1"/>
<path d="M252.58,304.40 L252.83,304.40 L253.07,304.39 L253.31,304.39 L253.55,304.39 L253.79,304.38 L254.03,304.37 L254.27,304.35 L254.51,304.33 L254.75,304.30 L254.99,304.25 L255.23,304.18 L255.47,304.09 L255.71,303.96 L255.95,303.79 L256.19,303.55 L256.43,303.23 L256.67,302.81 L256.91,302.25 L257.15,301.53 L257.39,300.59 L257.63,299.41 L257.87,297.91 L258.11,296.06 L258.35,293.78 L258.59,291.02 L258.83,287.72 L259.08,283.83 L259.32,279.31 L259.56,274.13 L259.80,268.31 L260.04,261.88 L260.28,254.91 L260.52,247.54 L260.76,239.92 L261.00,232.29 L261.24,224.93 L261.48,218.19 L261.72,212.46 L261.96,208.24 L262.20,206.30 L262.44,208.24 L262.68,212.46 L262.92,218.19 L263.16,224.93 L263.40,232.29 L263.64,239.92 L263.88,247.54 L264.12,254.91 L264.36,261.88 L264.60,268.31 L264.84,274.13 L265.08,279.31 L265.32,283.83 L265.57,287.72 L265.81,291.02 L266.05,293.78 L266.29,296.06 L266.53,297.91 L266.77,299.41 L267.01,300.59 L267.25,301.53 L267.49,302.25 L267.73,302.81 L267.97,303.23 L268.21,303.55 L268.45,303.79 L268.69,303.96 L268.93,304.09 L269.17,304.18 L269.41,304.25 L269.65,304.30 L269.89,304.33 L270.13,304.35 L270.37,304.37 L270.61,304.38 L270.85,304.39 L271.09,304.39 L271.33,304.39 L271.57,304.40 L271.82,304.40" fill="none" stroke="#5a5ae4" stroke-width="1"/>
<line x1="229.9" y1="304.09999999999997" x2="296" y2="304.09999999999997" stroke="#42429c" stroke-width="1.2"/>
<line x1="257.10" y1="304.09999999999997" x2="267.30" y2="304.09999999999997" stroke="#d04848" stroke-width="1"/>
<line x1="262.20" y1="206.3" x2="265.00" y2="208.4" stroke="#555" stroke-width="0.5"/>
<text transform="translate(264.70,213.90) scale(0.95,1)" font-size="4.8" text-anchor="start" fill="#222" font-weight="normal" stroke="#222" stroke-width="0.1">3.066</text>
<line x1="210" y1="202.2" x2="300" y2="202.2" stroke="#ebebeb" stroke-width="1"/>
<line x1="210.3" y1="202" x2="210.3" y2="327" stroke="#ebebeb" stroke-width="1"/>
<text transform="translate(344.80,196.70) scale(1.0,1)" font-size="11" text-anchor="middle" fill="#242424" font-weight="normal" stroke="#242424" stroke-width="0.06">0.391 nM</text>
<rect x="318.7" y="207.2" width="21.69999999999999" height="98.5" fill="#f2f2f2" stroke="#c4c4c4" stroke-width="0.9"/>
<line x1="316.9" y1="305.70" x2="318.7" y2="305.70" stroke="#777" stroke-width="0.8"/>
<text transform="translate(315.70,308.20) scale(0.8,1)" font-size="7.0" text-anchor="end" fill="#333" font-weight="normal" >0</text>
<line x1="316.9" y1="287.60" x2="318.7" y2="287.60" stroke="#777" stroke-width="0.8"/>
<text transform="translate(315.70,290.10) scale(0.8,1)" font-size="7.0" text-anchor="end" fill="#333" font-weight="normal" >200</text>
<line x1="316.9" y1="269.50" x2="318.7" y2="269.50" stroke="#777" stroke-width="0.8"/>
<text transform="translate(315.70,272.00) scale(0.8,1)" font-size="7.0" text-anchor="end" fill="#333" font-weight="normal" >400</text>
<line x1="316.9" y1="251.40" x2="318.7" y2="251.40" stroke="#777" stroke-width="0.8"/>
<text transform="translate(315.70,253.90) scale(0.8,1)" font-size="7.0" text-anchor="end" fill="#333" font-weight="normal" >600</text>
<line x1="316.9" y1="233.30" x2="318.7" y2="233.30" stroke="#777" stroke-width="0.8"/>
<text transform="translate(315.70,235.80) scale(0.8,1)" font-size="7.0" text-anchor="end" fill="#333" font-weight="normal" >800</text>
<line x1="316.9" y1="215.20" x2="318.7" y2="215.20" stroke="#777" stroke-width="0.8"/>
<text transform="translate(315.70,217.70) scale(0.8,1)" font-size="7.0" text-anchor="end" fill="#333" font-weight="normal" >1000</text>
<line x1="318.7" y1="305.7" x2="385" y2="305.7" stroke="#777" stroke-width="1"/>
<line x1="318.7" y1="206.7" x2="318.7" y2="305.7" stroke="#9a9a9a" stroke-width="1"/>
<line x1="317.7" y1="296.65" x2="318.7" y2="296.65" stroke="#999" stroke-width="0.6"/>
<line x1="317.7" y1="278.55" x2="318.7" y2="278.55" stroke="#999" stroke-width="0.6"/>
<line x1="317.7" y1="260.45" x2="318.7" y2="260.45" stroke="#999" stroke-width="0.6"/>
<line x1="317.7" y1="242.35" x2="318.7" y2="242.35" stroke="#999" stroke-width="0.6"/>
<line x1="317.7" y1="224.25" x2="318.7" y2="224.25" stroke="#999" stroke-width="0.6"/>
<text transform="translate(347.60,313.50) scale(0.88,1)" font-size="6.4" text-anchor="middle" fill="#2a2a2a" font-weight="normal" stroke="#2a2a2a" stroke-width="0.1">3.0</text>
<text transform="translate(372.50,313.50) scale(0.88,1)" font-size="6.4" text-anchor="middle" fill="#2a2a2a" font-weight="normal" stroke="#2a2a2a" stroke-width="0.1">3.5</text>
<text transform="translate(351.90,322.80) scale(1.0,1)" font-size="6.0" text-anchor="middle" fill="#2a2a2a" font-weight="normal" stroke="#2a2a2a" stroke-width="0.1">Time, min</text>
<path d="M340.62,305.70 L340.87,305.70 L341.13,305.69 L341.38,305.69 L341.64,305.69 L341.89,305.68 L342.15,305.67 L342.40,305.65 L342.66,305.63 L342.91,305.60 L343.16,305.55 L343.42,305.48 L343.67,305.39 L343.93,305.26 L344.18,305.08 L344.44,304.85 L344.69,304.53 L344.95,304.10 L345.20,303.54 L345.46,302.81 L345.71,301.88 L345.96,300.69 L346.22,299.19 L346.47,297.32 L346.73,295.04 L346.98,292.27 L347.24,288.95 L347.49,285.04 L347.75,280.50 L348.00,275.31 L348.25,269.46 L348.51,263.01 L348.76,256.01 L349.02,248.60 L349.27,240.96 L349.53,233.30 L349.78,225.91 L350.04,219.13 L350.29,213.38 L350.55,209.15 L350.80,207.20 L351.05,209.15 L351.31,213.38 L351.56,219.13 L351.82,225.91 L352.07,233.30 L352.33,240.96 L352.58,248.60 L352.84,256.01 L353.09,263.01 L353.35,269.46 L353.60,275.31 L353.85,280.50 L354.11,285.04 L354.36,288.95 L354.62,292.27 L354.87,295.04 L355.13,297.32 L355.38,299.19 L355.64,300.69 L355.89,301.88 L356.14,302.81 L356.40,303.54 L356.65,304.10 L356.91,304.53 L357.16,304.85 L357.42,305.08 L357.67,305.26 L357.93,305.39 L358.18,305.48 L358.44,305.55 L358.69,305.60 L358.94,305.63 L359.20,305.65 L359.45,305.67 L359.71,305.68 L359.96,305.69 L360.22,305.69 L360.47,305.69 L360.73,305.70 L360.98,305.70 Z" fill="#cdcdf6" stroke="none"/>
<path d="M340.62,305.70 L340.87,305.70 L341.13,305.69 L341.38,305.69 L341.64,305.69 L341.89,305.68 L342.15,305.67 L342.40,305.65 L342.66,305.63 L342.91,305.60 L343.16,305.55 L343.42,305.48 L343.67,305.39 L343.93,305.26 L344.18,305.08 L344.44,304.85 L344.69,304.53 L344.95,304.10 L345.20,303.54 L345.46,302.81 L345.71,301.88 L345.96,300.69 L346.22,299.19 L346.47,297.32 L346.73,295.04 L346.98,292.27 L347.24,288.95 L347.49,285.04 L347.75,280.50 L348.00,275.31 L348.25,269.46 L348.51,263.01 L348.76,256.01 L349.02,248.60 L349.27,240.96 L349.53,233.30 L349.78,225.91 L350.04,219.13 L350.29,213.38 L350.55,209.15 L350.80,207.20 L351.05,209.15 L351.31,213.38 L351.56,219.13 L351.82,225.91 L352.07,233.30 L352.33,240.96 L352.58,248.60 L352.84,256.01 L353.09,263.01 L353.35,269.46 L353.60,275.31 L353.85,280.50 L354.11,285.04 L354.36,288.95 L354.62,292.27 L354.87,295.04 L355.13,297.32 L355.38,299.19 L355.64,300.69 L355.89,301.88 L356.14,302.81 L356.40,303.54 L356.65,304.10 L356.91,304.53 L357.16,304.85 L357.42,305.08 L357.67,305.26 L357.93,305.39 L358.18,305.48 L358.44,305.55 L358.69,305.60 L358.94,305.63 L359.20,305.65 L359.45,305.67 L359.71,305.68 L359.96,305.69 L360.22,305.69 L360.47,305.69 L360.73,305.70 L360.98,305.70" fill="none" stroke="#5a5ae4" stroke-width="1"/>
<line x1="318.7" y1="305.4" x2="385" y2="305.4" stroke="#42429c" stroke-width="1.2"/>
<line x1="345.40" y1="305.4" x2="356.20" y2="305.4" stroke="#d04848" stroke-width="1"/>
<line x1="350.80" y1="207.2" x2="353.60" y2="209.29999999999998" stroke="#555" stroke-width="0.5"/>
<text transform="translate(353.30,214.80) scale(0.95,1)" font-size="4.8" text-anchor="start" fill="#222" font-weight="normal" stroke="#222" stroke-width="0.1">3.058</text>
<line x1="300" y1="202.2" x2="389" y2="202.2" stroke="#ebebeb" stroke-width="1"/>
<line x1="298.5" y1="326.8" x2="389" y2="326.8" stroke="#ebebeb" stroke-width="1"/>
<text transform="translate(76.35,343.90) scale(0.9,1)" font-size="11.6" text-anchor="middle" fill="#242424" font-weight="normal" stroke="#242424" stroke-width="0.06">1.56 nM</text>
<rect x="50.8" y="352.2" width="21.60000000000001" height="98.69999999999999" fill="#f2f2f2" stroke="#c4c4c4" stroke-width="0.9"/>
<line x1="49.0" y1="450.90" x2="50.8" y2="450.90" stroke="#777" stroke-width="0.8"/>
<text transform="translate(47.80,453.40) scale(0.8,1)" font-size="7.0" text-anchor="end" fill="#333" font-weight="normal" >0</text>
<line x1="49.0" y1="428.80" x2="50.8" y2="428.80" stroke="#777" stroke-width="0.8"/>
<text transform="translate(47.80,431.30) scale(0.8,1)" font-size="7.0" text-anchor="end" fill="#333" font-weight="normal" >1000</text>
<line x1="49.0" y1="406.70" x2="50.8" y2="406.70" stroke="#777" stroke-width="0.8"/>
<text transform="translate(47.80,409.20) scale(0.8,1)" font-size="7.0" text-anchor="end" fill="#333" font-weight="normal" >2000</text>
<line x1="49.0" y1="384.60" x2="50.8" y2="384.60" stroke="#777" stroke-width="0.8"/>
<text transform="translate(47.80,387.10) scale(0.8,1)" font-size="7.0" text-anchor="end" fill="#333" font-weight="normal" >3000</text>
<line x1="49.0" y1="362.50" x2="50.8" y2="362.50" stroke="#777" stroke-width="0.8"/>
<text transform="translate(47.80,365.00) scale(0.8,1)" font-size="7.0" text-anchor="end" fill="#333" font-weight="normal" >4000</text>
<line x1="50.8" y1="450.9" x2="116.5" y2="450.9" stroke="#777" stroke-width="1"/>
<line x1="50.8" y1="351.7" x2="50.8" y2="450.9" stroke="#9a9a9a" stroke-width="1"/>
<line x1="49.8" y1="439.85" x2="50.8" y2="439.85" stroke="#999" stroke-width="0.6"/>
<line x1="49.8" y1="417.75" x2="50.8" y2="417.75" stroke="#999" stroke-width="0.6"/>
<line x1="49.8" y1="395.65" x2="50.8" y2="395.65" stroke="#999" stroke-width="0.6"/>
<line x1="49.8" y1="373.55" x2="50.8" y2="373.55" stroke="#999" stroke-width="0.6"/>
<text transform="translate(79.80,459.50) scale(0.88,1)" font-size="6.4" text-anchor="middle" fill="#2a2a2a" font-weight="normal" stroke="#2a2a2a" stroke-width="0.1">3.0</text>
<text transform="translate(104.30,459.50) scale(0.88,1)" font-size="6.4" text-anchor="middle" fill="#2a2a2a" font-weight="normal" stroke="#2a2a2a" stroke-width="0.1">3.5</text>
<text transform="translate(84.10,467.50) scale(1.0,1)" font-size="6.0" text-anchor="middle" fill="#2a2a2a" font-weight="normal" stroke="#2a2a2a" stroke-width="0.1">Time, min</text>
<path d="M71.68,450.90 L71.93,450.90 L72.17,450.89 L72.41,450.89 L72.65,450.89 L72.89,450.88 L73.13,450.87 L73.37,450.85 L73.61,450.83 L73.85,450.80 L74.09,450.75 L74.33,450.68 L74.57,450.59 L74.81,450.46 L75.05,450.28 L75.29,450.05 L75.53,449.73 L75.77,449.30 L76.01,448.74 L76.25,448.01 L76.49,447.08 L76.73,445.89 L76.97,444.39 L77.21,442.52 L77.45,440.24 L77.69,437.47 L77.93,434.15 L78.18,430.24 L78.42,425.70 L78.66,420.51 L78.90,414.66 L79.14,408.21 L79.38,401.21 L79.62,393.80 L79.86,386.16 L80.10,378.50 L80.34,371.11 L80.58,364.33 L80.82,358.58 L81.06,354.35 L81.30,352.40 L81.54,354.35 L81.78,358.58 L82.02,364.33 L82.26,371.11 L82.50,378.50 L82.74,386.16 L82.98,393.80 L83.22,401.21 L83.46,408.21 L83.70,414.66 L83.94,420.51 L84.18,425.70 L84.42,430.24 L84.67,434.15 L84.91,437.47 L85.15,440.24 L85.39,442.52 L85.63,444.39 L85.87,445.89 L86.11,447.08 L86.35,448.01 L86.59,448.74 L86.83,449.30 L87.07,449.73 L87.31,450.05 L87.55,450.28 L87.79,450.46 L88.03,450.59 L88.27,450.68 L88.51,450.75 L88.75,450.80 L88.99,450.83 L89.23,450.85 L89.47,450.87 L89.71,450.88 L89.95,450.89 L90.19,450.89 L90.43,450.89 L90.67,450.90 L90.92,450.90 Z" fill="#cdcdf6" stroke="none"/>
<path d="M71.68,450.90 L71.93,450.90 L72.17,450.89 L72.41,450.89 L72.65,450.89 L72.89,450.88 L73.13,450.87 L73.37,450.85 L73.61,450.83 L73.85,450.80 L74.09,450.75 L74.33,450.68 L74.57,450.59 L74.81,450.46 L75.05,450.28 L75.29,450.05 L75.53,449.73 L75.77,449.30 L76.01,448.74 L76.25,448.01 L76.49,447.08 L76.73,445.89 L76.97,444.39 L77.21,442.52 L77.45,440.24 L77.69,437.47 L77.93,434.15 L78.18,430.24 L78.42,425.70 L78.66,420.51 L78.90,414.66 L79.14,408.21 L79.38,401.21 L79.62,393.80 L79.86,386.16 L80.10,378.50 L80.34,371.11 L80.58,364.33 L80.82,358.58 L81.06,354.35 L81.30,352.40 L81.54,354.35 L81.78,358.58 L82.02,364.33 L82.26,371.11 L82.50,378.50 L82.74,386.16 L82.98,393.80 L83.22,401.21 L83.46,408.21 L83.70,414.66 L83.94,420.51 L84.18,425.70 L84.42,430.24 L84.67,434.15 L84.91,437.47 L85.15,440.24 L85.39,442.52 L85.63,444.39 L85.87,445.89 L86.11,447.08 L86.35,448.01 L86.59,448.74 L86.83,449.30 L87.07,449.73 L87.31,450.05 L87.55,450.28 L87.79,450.46 L88.03,450.59 L88.27,450.68 L88.51,450.75 L88.75,450.80 L88.99,450.83 L89.23,450.85 L89.47,450.87 L89.71,450.88 L89.95,450.89 L90.19,450.89 L90.43,450.89 L90.67,450.90 L90.92,450.90" fill="none" stroke="#5a5ae4" stroke-width="1"/>
<line x1="50.8" y1="450.59999999999997" x2="116.5" y2="450.59999999999997" stroke="#42429c" stroke-width="1.2"/>
<line x1="76.20" y1="450.59999999999997" x2="86.40" y2="450.59999999999997" stroke="#d04848" stroke-width="1"/>
<line x1="81.30" y1="352.4" x2="84.10" y2="354.5" stroke="#555" stroke-width="0.5"/>
<text transform="translate(83.80,360.00) scale(0.95,1)" font-size="4.8" text-anchor="start" fill="#222" font-weight="normal" stroke="#222" stroke-width="0.1">3.019</text>
<text transform="translate(165.00,343.90) scale(0.9,1)" font-size="11.6" text-anchor="middle" fill="#242424" font-weight="normal" stroke="#242424" stroke-width="0.06">6.25 nM</text>
<rect x="141.2" y="350.2" width="22.100000000000023" height="99.10000000000002" fill="#f2f2f2" stroke="#c4c4c4" stroke-width="0.9"/>
<line x1="139.39999999999998" y1="449.30" x2="141.2" y2="449.30" stroke="#777" stroke-width="0.8"/>
<text transform="translate(138.20,451.80) scale(0.8,1)" font-size="7.0" text-anchor="end" fill="#333" font-weight="normal" >0</text>
<line x1="139.39999999999998" y1="421.50" x2="141.2" y2="421.50" stroke="#777" stroke-width="0.8"/>
<text transform="translate(138.20,424.00) scale(0.8,1)" font-size="7.0" text-anchor="end" fill="#333" font-weight="normal" >5000</text>
<line x1="139.39999999999998" y1="393.60" x2="141.2" y2="393.60" stroke="#777" stroke-width="0.8"/>
<text transform="translate(138.20,396.10) scale(0.8,1)" font-size="7.0" text-anchor="end" fill="#333" font-weight="normal" >10000</text>
<line x1="139.39999999999998" y1="365.70" x2="141.2" y2="365.70" stroke="#777" stroke-width="0.8"/>
<text transform="translate(138.20,368.20) scale(0.8,1)" font-size="7.0" text-anchor="end" fill="#333" font-weight="normal" >15000</text>
<line x1="141.2" y1="449.3" x2="206.5" y2="449.3" stroke="#777" stroke-width="1"/>
<line x1="141.2" y1="349.7" x2="141.2" y2="449.3" stroke="#9a9a9a" stroke-width="1"/>
<line x1="140.2" y1="435.40" x2="141.2" y2="435.40" stroke="#999" stroke-width="0.6"/>
<line x1="140.2" y1="407.60" x2="141.2" y2="407.60" stroke="#999" stroke-width="0.6"/>
<line x1="140.2" y1="379.80" x2="141.2" y2="379.80" stroke="#999" stroke-width="0.6"/>
<line x1="140.2" y1="352.00" x2="141.2" y2="352.00" stroke="#999" stroke-width="0.6"/>
<text transform="translate(170.20,457.80) scale(0.88,1)" font-size="6.4" text-anchor="middle" fill="#2a2a2a" font-weight="normal" stroke="#2a2a2a" stroke-width="0.1">3.0</text>
<text transform="translate(194.30,457.80) scale(0.88,1)" font-size="6.4" text-anchor="middle" fill="#2a2a2a" font-weight="normal" stroke="#2a2a2a" stroke-width="0.1">3.5</text>
<text transform="translate(174.50,466.50) scale(1.0,1)" font-size="6.0" text-anchor="middle" fill="#2a2a2a" font-weight="normal" stroke="#2a2a2a" stroke-width="0.1">Time, min</text>
<path d="M162.45,449.30 L162.68,449.30 L162.90,449.29 L163.13,449.29 L163.36,449.29 L163.58,449.28 L163.81,449.27 L164.03,449.25 L164.26,449.23 L164.49,449.20 L164.71,449.15 L164.94,449.08 L165.17,448.99 L165.39,448.86 L165.62,448.68 L165.84,448.45 L166.07,448.13 L166.30,447.70 L166.52,447.14 L166.75,446.41 L166.98,445.48 L167.20,444.29 L167.43,442.79 L167.65,440.92 L167.88,438.64 L168.11,435.87 L168.33,432.55 L168.56,428.64 L168.79,424.10 L169.01,418.91 L169.24,413.06 L169.46,406.61 L169.69,399.61 L169.92,392.20 L170.14,384.56 L170.37,376.90 L170.60,369.51 L170.82,362.73 L171.05,356.98 L171.27,352.75 L171.50,350.80 L171.73,352.75 L171.95,356.98 L172.18,362.73 L172.40,369.51 L172.63,376.90 L172.86,384.56 L173.08,392.20 L173.31,399.61 L173.54,406.61 L173.76,413.06 L173.99,418.91 L174.21,424.10 L174.44,428.64 L174.67,432.55 L174.89,435.87 L175.12,438.64 L175.35,440.92 L175.57,442.79 L175.80,444.29 L176.02,445.48 L176.25,446.41 L176.48,447.14 L176.70,447.70 L176.93,448.13 L177.16,448.45 L177.38,448.68 L177.61,448.86 L177.83,448.99 L178.06,449.08 L178.29,449.15 L178.51,449.20 L178.74,449.23 L178.97,449.25 L179.19,449.27 L179.42,449.28 L179.64,449.29 L179.87,449.29 L180.10,449.29 L180.32,449.30 L180.55,449.30 Z" fill="#cdcdf6" stroke="none"/>
<path d="M162.45,449.30 L162.68,449.30 L162.90,449.29 L163.13,449.29 L163.36,449.29 L163.58,449.28 L163.81,449.27 L164.03,449.25 L164.26,449.23 L164.49,449.20 L164.71,449.15 L164.94,449.08 L165.17,448.99 L165.39,448.86 L165.62,448.68 L165.84,448.45 L166.07,448.13 L166.30,447.70 L166.52,447.14 L166.75,446.41 L166.98,445.48 L167.20,444.29 L167.43,442.79 L167.65,440.92 L167.88,438.64 L168.11,435.87 L168.33,432.55 L168.56,428.64 L168.79,424.10 L169.01,418.91 L169.24,413.06 L169.46,406.61 L169.69,399.61 L169.92,392.20 L170.14,384.56 L170.37,376.90 L170.60,369.51 L170.82,362.73 L171.05,356.98 L171.27,352.75 L171.50,350.80 L171.73,352.75 L171.95,356.98 L172.18,362.73 L172.40,369.51 L172.63,376.90 L172.86,384.56 L173.08,392.20 L173.31,399.61 L173.54,406.61 L173.76,413.06 L173.99,418.91 L174.21,424.10 L174.44,428.64 L174.67,432.55 L174.89,435.87 L175.12,438.64 L175.35,440.92 L175.57,442.79 L175.80,444.29 L176.02,445.48 L176.25,446.41 L176.48,447.14 L176.70,447.70 L176.93,448.13 L177.16,448.45 L177.38,448.68 L177.61,448.86 L177.83,448.99 L178.06,449.08 L178.29,449.15 L178.51,449.20 L178.74,449.23 L178.97,449.25 L179.19,449.27 L179.42,449.28 L179.64,449.29 L179.87,449.29 L180.10,449.29 L180.32,449.30 L180.55,449.30" fill="none" stroke="#5a5ae4" stroke-width="1"/>
<line x1="141.2" y1="449.0" x2="206.5" y2="449.0" stroke="#42429c" stroke-width="1.2"/>
<line x1="166.70" y1="449.0" x2="176.30" y2="449.0" stroke="#d04848" stroke-width="1"/>
<line x1="171.50" y1="350.8" x2="174.30" y2="352.90000000000003" stroke="#555" stroke-width="0.5"/>
<text transform="translate(174.00,358.40) scale(0.95,1)" font-size="4.8" text-anchor="start" fill="#222" font-weight="normal" stroke="#222" stroke-width="0.1">3.003</text>
<text transform="translate(254.80,343.90) scale(0.97,1)" font-size="11.6" text-anchor="middle" fill="#242424" font-weight="normal" stroke="#242424" stroke-width="0.06">25 nM</text>
<rect x="229.7" y="351.9" width="21.600000000000023" height="99.0" fill="#f2f2f2" stroke="#c4c4c4" stroke-width="0.9"/>
<line x1="227.89999999999998" y1="450.90" x2="229.7" y2="450.90" stroke="#777" stroke-width="0.8"/>
<text transform="translate(226.70,453.40) scale(0.8,1)" font-size="7.0" text-anchor="end" fill="#333" font-weight="normal" >0e0</text>
<line x1="227.89999999999998" y1="436.48" x2="229.7" y2="436.48" stroke="#777" stroke-width="0.8"/>
<text transform="translate(226.70,438.98) scale(0.8,1)" font-size="7.0" text-anchor="end" fill="#333" font-weight="normal" >1e4</text>
<line x1="227.89999999999998" y1="422.06" x2="229.7" y2="422.06" stroke="#777" stroke-width="0.8"/>
<text transform="translate(226.70,424.56) scale(0.8,1)" font-size="7.0" text-anchor="end" fill="#333" font-weight="normal" >2e4</text>
<line x1="227.89999999999998" y1="407.64" x2="229.7" y2="407.64" stroke="#777" stroke-width="0.8"/>
<text transform="translate(226.70,410.14) scale(0.8,1)" font-size="7.0" text-anchor="end" fill="#333" font-weight="normal" >3e4</text>
<line x1="227.89999999999998" y1="393.22" x2="229.7" y2="393.22" stroke="#777" stroke-width="0.8"/>
<text transform="translate(226.70,395.72) scale(0.8,1)" font-size="7.0" text-anchor="end" fill="#333" font-weight="normal" >4e4</text>
<line x1="227.89999999999998" y1="378.80" x2="229.7" y2="378.80" stroke="#777" stroke-width="0.8"/>
<text transform="translate(226.70,381.30) scale(0.8,1)" font-size="7.0" text-anchor="end" fill="#333" font-weight="normal" >5e4</text>
<line x1="227.89999999999998" y1="364.38" x2="229.7" y2="364.38" stroke="#777" stroke-width="0.8"/>
<text transform="translate(226.70,366.88) scale(0.8,1)" font-size="7.0" text-anchor="end" fill="#333" font-weight="normal" >6e4</text>
<line x1="229.7" y1="450.9" x2="295.1" y2="450.9" stroke="#777" stroke-width="1"/>
<line x1="229.7" y1="351.4" x2="229.7" y2="450.9" stroke="#9a9a9a" stroke-width="1"/>
<line x1="228.7" y1="443.69" x2="229.7" y2="443.69" stroke="#999" stroke-width="0.6"/>
<line x1="228.7" y1="429.27" x2="229.7" y2="429.27" stroke="#999" stroke-width="0.6"/>
<line x1="228.7" y1="414.85" x2="229.7" y2="414.85" stroke="#999" stroke-width="0.6"/>
<line x1="228.7" y1="400.43" x2="229.7" y2="400.43" stroke="#999" stroke-width="0.6"/>
<line x1="228.7" y1="386.01" x2="229.7" y2="386.01" stroke="#999" stroke-width="0.6"/>
<line x1="228.7" y1="371.59" x2="229.7" y2="371.59" stroke="#999" stroke-width="0.6"/>
<line x1="228.7" y1="357.17" x2="229.7" y2="357.17" stroke="#999" stroke-width="0.6"/>
<text transform="translate(258.30,459.40) scale(0.88,1)" font-size="6.4" text-anchor="middle" fill="#2a2a2a" font-weight="normal" stroke="#2a2a2a" stroke-width="0.1">3.0</text>
<text transform="translate(283.00,459.40) scale(0.88,1)" font-size="6.4" text-anchor="middle" fill="#2a2a2a" font-weight="normal" stroke="#2a2a2a" stroke-width="0.1">3.5</text>
<text transform="translate(262.60,467.20) scale(1.0,1)" font-size="6.0" text-anchor="middle" fill="#2a2a2a" font-weight="normal" stroke="#2a2a2a" stroke-width="0.1">Time, min</text>
<path d="M251.75,450.90 L251.98,450.90 L252.20,450.89 L252.43,450.89 L252.66,450.89 L252.88,450.88 L253.11,450.87 L253.33,450.85 L253.56,450.83 L253.79,450.80 L254.01,450.75 L254.24,450.68 L254.47,450.59 L254.69,450.46 L254.92,450.28 L255.14,450.05 L255.37,449.73 L255.60,449.30 L255.82,448.74 L256.05,448.01 L256.28,447.08 L256.50,445.89 L256.73,444.39 L256.95,442.52 L257.18,440.24 L257.41,437.47 L257.63,434.15 L257.86,430.24 L258.09,425.70 L258.31,420.51 L258.54,414.66 L258.76,408.21 L258.99,401.21 L259.22,393.80 L259.44,386.16 L259.67,378.50 L259.90,371.11 L260.12,364.33 L260.35,358.58 L260.57,354.35 L260.80,352.40 L261.03,354.35 L261.25,358.58 L261.48,364.33 L261.70,371.11 L261.93,378.50 L262.16,386.16 L262.38,393.80 L262.61,401.21 L262.84,408.21 L263.06,414.66 L263.29,420.51 L263.51,425.70 L263.74,430.24 L263.97,434.15 L264.19,437.47 L264.42,440.24 L264.65,442.52 L264.87,444.39 L265.10,445.89 L265.32,447.08 L265.55,448.01 L265.78,448.74 L266.00,449.30 L266.23,449.73 L266.46,450.05 L266.68,450.28 L266.91,450.46 L267.13,450.59 L267.36,450.68 L267.59,450.75 L267.81,450.80 L268.04,450.83 L268.27,450.85 L268.49,450.87 L268.72,450.88 L268.94,450.89 L269.17,450.89 L269.40,450.89 L269.62,450.90 L269.85,450.90 Z" fill="#cdcdf6" stroke="none"/>
<path d="M251.75,450.90 L251.98,450.90 L252.20,450.89 L252.43,450.89 L252.66,450.89 L252.88,450.88 L253.11,450.87 L253.33,450.85 L253.56,450.83 L253.79,450.80 L254.01,450.75 L254.24,450.68 L254.47,450.59 L254.69,450.46 L254.92,450.28 L255.14,450.05 L255.37,449.73 L255.60,449.30 L255.82,448.74 L256.05,448.01 L256.28,447.08 L256.50,445.89 L256.73,444.39 L256.95,442.52 L257.18,440.24 L257.41,437.47 L257.63,434.15 L257.86,430.24 L258.09,425.70 L258.31,420.51 L258.54,414.66 L258.76,408.21 L258.99,401.21 L259.22,393.80 L259.44,386.16 L259.67,378.50 L259.90,371.11 L260.12,364.33 L260.35,358.58 L260.57,354.35 L260.80,352.40 L261.03,354.35 L261.25,358.58 L261.48,364.33 L261.70,371.11 L261.93,378.50 L262.16,386.16 L262.38,393.80 L262.61,401.21 L262.84,408.21 L263.06,414.66 L263.29,420.51 L263.51,425.70 L263.74,430.24 L263.97,434.15 L264.19,437.47 L264.42,440.24 L264.65,442.52 L264.87,444.39 L265.10,445.89 L265.32,447.08 L265.55,448.01 L265.78,448.74 L266.00,449.30 L266.23,449.73 L266.46,450.05 L266.68,450.28 L266.91,450.46 L267.13,450.59 L267.36,450.68 L267.59,450.75 L267.81,450.80 L268.04,450.83 L268.27,450.85 L268.49,450.87 L268.72,450.88 L268.94,450.89 L269.17,450.89 L269.40,450.89 L269.62,450.90 L269.85,450.90" fill="none" stroke="#5a5ae4" stroke-width="1"/>
<line x1="229.7" y1="450.59999999999997" x2="295.1" y2="450.59999999999997" stroke="#42429c" stroke-width="1.2"/>
<line x1="256.00" y1="450.59999999999997" x2="265.60" y2="450.59999999999997" stroke="#d04848" stroke-width="1"/>
<line x1="260.80" y1="352.4" x2="263.60" y2="354.5" stroke="#555" stroke-width="0.5"/>
<text transform="translate(263.30,360.00) scale(0.95,1)" font-size="4.8" text-anchor="start" fill="#222" font-weight="normal" stroke="#222" stroke-width="0.1">3.032</text>
<text transform="translate(344.80,343.90) scale(0.98,1)" font-size="11.6" text-anchor="middle" fill="#242424" font-weight="normal" stroke="#242424" stroke-width="0.06">50 nM</text>
<rect x="321.3" y="351.9" width="20.899999999999977" height="99.10000000000002" fill="#f2f2f2" stroke="#c4c4c4" stroke-width="0.9"/>
<line x1="319.5" y1="451.00" x2="321.3" y2="451.00" stroke="#777" stroke-width="0.8"/>
<text transform="translate(318.30,453.50) scale(0.8,1)" font-size="7.0" text-anchor="end" fill="#333" font-weight="normal" >0.0e0</text>
<line x1="319.5" y1="436.80" x2="321.3" y2="436.80" stroke="#777" stroke-width="0.8"/>
<text transform="translate(318.30,439.30) scale(0.8,1)" font-size="7.0" text-anchor="end" fill="#333" font-weight="normal" >2.0e4</text>
<line x1="319.5" y1="422.70" x2="321.3" y2="422.70" stroke="#777" stroke-width="0.8"/>
<text transform="translate(318.30,425.20) scale(0.8,1)" font-size="7.0" text-anchor="end" fill="#333" font-weight="normal" >4.0e4</text>
<line x1="319.5" y1="408.50" x2="321.3" y2="408.50" stroke="#777" stroke-width="0.8"/>
<text transform="translate(318.30,411.00) scale(0.8,1)" font-size="7.0" text-anchor="end" fill="#333" font-weight="normal" >6.0e4</text>
<line x1="319.5" y1="394.30" x2="321.3" y2="394.30" stroke="#777" stroke-width="0.8"/>
<text transform="translate(318.30,396.80) scale(0.8,1)" font-size="7.0" text-anchor="end" fill="#333" font-weight="normal" >8.0e4</text>
<line x1="319.5" y1="380.20" x2="321.3" y2="380.20" stroke="#777" stroke-width="0.8"/>
<text transform="translate(318.30,382.70) scale(0.8,1)" font-size="7.0" text-anchor="end" fill="#333" font-weight="normal" >1.0e5</text>
<line x1="319.5" y1="366.00" x2="321.3" y2="366.00" stroke="#777" stroke-width="0.8"/>
<text transform="translate(318.30,368.50) scale(0.8,1)" font-size="7.0" text-anchor="end" fill="#333" font-weight="normal" >1.2e5</text>
<line x1="321.3" y1="451" x2="387.3" y2="451" stroke="#777" stroke-width="1"/>
<line x1="321.3" y1="351.4" x2="321.3" y2="451" stroke="#9a9a9a" stroke-width="1"/>
<line x1="320.3" y1="443.90" x2="321.3" y2="443.90" stroke="#999" stroke-width="0.6"/>
<line x1="320.3" y1="429.70" x2="321.3" y2="429.70" stroke="#999" stroke-width="0.6"/>
<line x1="320.3" y1="415.50" x2="321.3" y2="415.50" stroke="#999" stroke-width="0.6"/>
<line x1="320.3" y1="401.30" x2="321.3" y2="401.30" stroke="#999" stroke-width="0.6"/>
<line x1="320.3" y1="387.10" x2="321.3" y2="387.10" stroke="#999" stroke-width="0.6"/>
<line x1="320.3" y1="372.90" x2="321.3" y2="372.90" stroke="#999" stroke-width="0.6"/>
<line x1="320.3" y1="358.70" x2="321.3" y2="358.70" stroke="#999" stroke-width="0.6"/>
<text transform="translate(349.70,459.80) scale(0.88,1)" font-size="6.4" text-anchor="middle" fill="#2a2a2a" font-weight="normal" stroke="#2a2a2a" stroke-width="0.1">3.0</text>
<text transform="translate(374.30,459.80) scale(0.88,1)" font-size="6.4" text-anchor="middle" fill="#2a2a2a" font-weight="normal" stroke="#2a2a2a" stroke-width="0.1">3.5</text>
<text transform="translate(354.00,467.50) scale(1.0,1)" font-size="6.0" text-anchor="middle" fill="#2a2a2a" font-weight="normal" stroke="#2a2a2a" stroke-width="0.1">Time, min</text>
<path d="M343.68,451.00 L343.93,451.00 L344.17,450.99 L344.41,450.99 L344.65,450.99 L344.89,450.98 L345.13,450.97 L345.37,450.95 L345.61,450.93 L345.85,450.90 L346.09,450.85 L346.33,450.78 L346.57,450.69 L346.81,450.56 L347.05,450.39 L347.29,450.15 L347.53,449.83 L347.77,449.40 L348.01,448.85 L348.25,448.12 L348.49,447.18 L348.73,446.00 L348.97,444.50 L349.21,442.64 L349.45,440.36 L349.69,437.59 L349.93,434.29 L350.18,430.39 L350.42,425.85 L350.66,420.67 L350.90,414.84 L351.14,408.39 L351.38,401.41 L351.62,394.02 L351.86,386.39 L352.10,378.74 L352.34,371.37 L352.58,364.61 L352.82,358.87 L353.06,354.64 L353.30,352.70 L353.54,354.64 L353.78,358.87 L354.02,364.61 L354.26,371.37 L354.50,378.74 L354.74,386.39 L354.98,394.02 L355.22,401.41 L355.46,408.39 L355.70,414.84 L355.94,420.67 L356.18,425.85 L356.42,430.39 L356.67,434.29 L356.91,437.59 L357.15,440.36 L357.39,442.64 L357.63,444.50 L357.87,446.00 L358.11,447.18 L358.35,448.12 L358.59,448.85 L358.83,449.40 L359.07,449.83 L359.31,450.15 L359.55,450.39 L359.79,450.56 L360.03,450.69 L360.27,450.78 L360.51,450.85 L360.75,450.90 L360.99,450.93 L361.23,450.95 L361.47,450.97 L361.71,450.98 L361.95,450.99 L362.19,450.99 L362.43,450.99 L362.67,451.00 L362.92,451.00 Z" fill="#cdcdf6" stroke="none"/>
<path d="M343.68,451.00 L343.93,451.00 L344.17,450.99 L344.41,450.99 L344.65,450.99 L344.89,450.98 L345.13,450.97 L345.37,450.95 L345.61,450.93 L345.85,450.90 L346.09,450.85 L346.33,450.78 L346.57,450.69 L346.81,450.56 L347.05,450.39 L347.29,450.15 L347.53,449.83 L347.77,449.40 L348.01,448.85 L348.25,448.12 L348.49,447.18 L348.73,446.00 L348.97,444.50 L349.21,442.64 L349.45,440.36 L349.69,437.59 L349.93,434.29 L350.18,430.39 L350.42,425.85 L350.66,420.67 L350.90,414.84 L351.14,408.39 L351.38,401.41 L351.62,394.02 L351.86,386.39 L352.10,378.74 L352.34,371.37 L352.58,364.61 L352.82,358.87 L353.06,354.64 L353.30,352.70 L353.54,354.64 L353.78,358.87 L354.02,364.61 L354.26,371.37 L354.50,378.74 L354.74,386.39 L354.98,394.02 L355.22,401.41 L355.46,408.39 L355.70,414.84 L355.94,420.67 L356.18,425.85 L356.42,430.39 L356.67,434.29 L356.91,437.59 L357.15,440.36 L357.39,442.64 L357.63,444.50 L357.87,446.00 L358.11,447.18 L358.35,448.12 L358.59,448.85 L358.83,449.40 L359.07,449.83 L359.31,450.15 L359.55,450.39 L359.79,450.56 L360.03,450.69 L360.27,450.78 L360.51,450.85 L360.75,450.90 L360.99,450.93 L361.23,450.95 L361.47,450.97 L361.71,450.98 L361.95,450.99 L362.19,450.99 L362.43,450.99 L362.67,451.00 L362.92,451.00" fill="none" stroke="#5a5ae4" stroke-width="1"/>
<line x1="321.3" y1="450.7" x2="387.3" y2="450.7" stroke="#42429c" stroke-width="1.2"/>
<line x1="348.20" y1="450.7" x2="358.40" y2="450.7" stroke="#d04848" stroke-width="1"/>
<line x1="353.30" y1="352.7" x2="356.10" y2="354.8" stroke="#555" stroke-width="0.5"/>
<text transform="translate(355.80,360.30) scale(0.95,1)" font-size="4.8" text-anchor="start" fill="#222" font-weight="normal" stroke="#222" stroke-width="0.1">3.058</text>
</g>
</svg>
</body></html>
